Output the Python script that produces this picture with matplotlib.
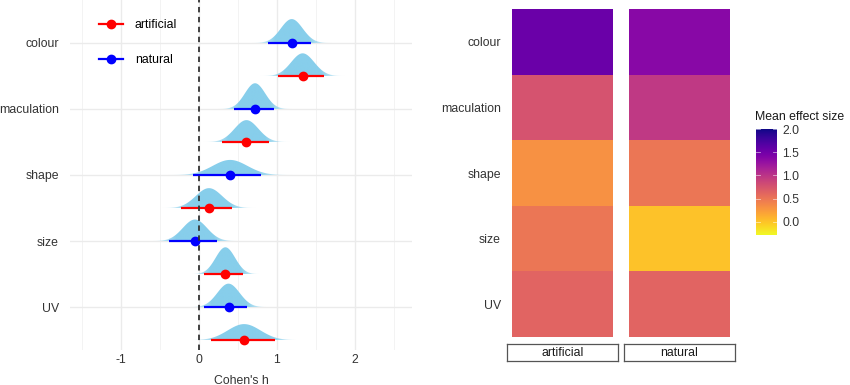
import numpy as np
import matplotlib
matplotlib.use('Agg')
import matplotlib.pyplot as plt
from matplotlib.lines import Line2D
from matplotlib.patches import Polygon

plt.rcParams['font.family'] = ['Liberation Sans', 'DejaVu Sans']
plt.rcParams['font.size'] = 8.8
plt.rcParams['axes.unicode_minus'] = False

# data
categories = ['colour', 'maculation', 'shape', 'size', 'UV']
nat_mean = [1.19, 0.72, 0.40, -0.05, 0.38]
nat_lo = [0.89, 0.45, -0.07, -0.38, 0.06]
nat_hi = [1.44, 0.96, 0.80, 0.23, 0.62]
art_mean = [1.33, 0.61, 0.13, 0.34, 0.58]
art_lo = [1.02, 0.30, -0.23, 0.07, 0.16]
art_hi = [1.60, 0.90, 0.43, 0.56, 0.98]

facets = ['artificial', 'natural']
heat_art = [1.54, 0.77, 0.31, 0.50, 0.63]
heat_nat = [1.36, 0.97, 0.50, 0.02, 0.63]
cbar_ticks = [0.0, 0.5, 1.0, 1.5, 2.0]
cbar_lim = (-0.28, 2.0)

txt_col = '#333333'
sky = np.array([135, 206, 235]) / 255.
dens_scale = 0.127

fig = plt.figure(figsize=(8.5, 3.85), dpi=100)


def halfeye(ax, mean, lo, hi, ybase, color):
    sd = (hi - lo) / 3.92
    xs = np.linspace(mean - 4 * sd, mean + 4 * sd, 200)
    z = (xs - mean) / sd
    dens = np.exp(-0.5 * z ** 2) / (sd * np.sqrt(2 * np.pi)) * dens_scale
    verts = np.vstack([np.column_stack([xs, ybase - dens]),
                       [[xs[-1], ybase], [xs[0], ybase]]])
    poly = Polygon(verts, closed=True, facecolor='none', edgecolor='none')
    ax.add_patch(poly)
    alpha = np.clip(1.7 - 0.45 * np.abs(z), 0, 1)
    img = np.zeros((1, len(xs), 4))
    img[0, :, :3] = sky
    img[0, :, 3] = alpha
    im = ax.imshow(img, extent=(xs[0], xs[-1], ybase, ybase - dens.max()),
                   aspect='auto', interpolation='bilinear', zorder=2)
    im.set_clip_path(poly)
    ax.plot([lo, hi], [ybase, ybase], color=color, lw=1.6, zorder=4,
            solid_capstyle='butt')
    ax.plot(mean, ybase, 'o', color=color, ms=6, zorder=5)


# left panel: posterior halfeyes
ax = fig.add_axes([70 / 850, 1 - 350 / 385, 342 / 850, 350 / 385])
for i in range(len(categories)):
    halfeye(ax, nat_mean[i], nat_lo[i], nat_hi[i], i, '#0000FF')
    halfeye(ax, art_mean[i], art_lo[i], art_hi[i], i + 0.5, '#FF0000')

ax.axvline(0, color='#333333', lw=1.3, ls=(0, (3, 2.5)), zorder=6)
ax.set_xlim(-1.65, 2.73)
ax.set_ylim(4.65, -0.65)
ax.set_xticks([-1, 0, 1, 2])
ax.set_xticks([-1.5, -0.5, 0.5, 1.5, 2.5], minor=True)
ax.set_yticks(range(len(categories)))
ax.set_yticklabels(categories)
ax.grid(which='major', color='#EBEBEB', lw=1.0, zorder=0)
ax.grid(which='minor', axis='x', color='#F3F3F3', lw=0.7, zorder=0)
ax.set_axisbelow(True)
for s in ax.spines.values():
    s.set_visible(False)
ax.tick_params(which='both', length=0, colors=txt_col, labelsize=8.8)
ax.tick_params(axis='y', pad=8)
ax.tick_params(axis='x', pad=3)
ax.set_xlabel("Cohen's h", color=txt_col, labelpad=6)

handles = [Line2D([], [], color='#FF0000', lw=1.6, marker='o', ms=6),
           Line2D([], [], color='#0000FF', lw=1.6, marker='o', ms=6)]
ax.legend(handles, ['artificial', 'natural'], loc='upper left',
          bbox_to_anchor=(0.052, 0.977), frameon=False, handlelength=2.0,
          labelspacing=1.9, handletextpad=0.95, fontsize=8.8)

# right panel: heatmap facets
cmap = plt.get_cmap('plasma_r')
heat_vals = [heat_art, heat_nat]
lefts = [512, 629]
strip_l = [507, 624]
for j, name in enumerate(facets):
    hx = fig.add_axes([lefts[j] / 850, 1 - 337 / 385, 101 / 850, 328 / 385])
    hx.pcolormesh([0, 1], np.arange(len(categories) + 1),
                  np.array(heat_vals[j])[:, None], cmap=cmap,
                  vmin=cbar_lim[0], vmax=cbar_lim[1])
    hx.set_xlim(0, 1)
    hx.set_ylim(len(categories), 0)
    hx.set_xticks([])
    if j == 0:
        hx.set_yticks(np.arange(len(categories)) + 0.5)
        hx.set_yticklabels(categories)
        hx.tick_params(axis='y', length=0, pad=8, labelcolor=txt_col)
    else:
        hx.set_yticks([])
    for s in hx.spines.values():
        s.set_visible(False)

    st = fig.add_axes([strip_l[j] / 850, 1 - 361 / 385, 111 / 850, 17 / 385])
    st.set_xticks([])
    st.set_yticks([])
    for s in st.spines.values():
        s.set_color('#555555')
        s.set_linewidth(0.9)
    st.text(0.5, 0.45, name, ha='center', va='center', color='#1A1A1A',
            transform=st.transAxes)

# colorbar
cb = fig.add_axes([756 / 850, 1 - 235 / 385, 21 / 850, 106 / 385])
grad = np.linspace(cbar_lim[0], cbar_lim[1], 256)[:, None]
cb.imshow(grad, cmap=cmap, vmin=cbar_lim[0], vmax=cbar_lim[1],
          extent=(0, 1, cbar_lim[0], cbar_lim[1]), origin='lower', aspect='auto')
for t in cbar_ticks:
    cb.plot([0, 0.2], [t, t], color='white', lw=0.6, alpha=0.6)
    cb.plot([0.8, 1], [t, t], color='white', lw=0.6, alpha=0.6)
cb.set_xlim(0, 1)
cb.set_ylim(*cbar_lim)
cb.set_xticks([])
cb.yaxis.tick_right()
cb.set_yticks(cbar_ticks)
cb.set_yticklabels(['%.1f' % t for t in cbar_ticks])
cb.tick_params(axis='y', length=0, pad=4, labelcolor=txt_col)
for s in cb.spines.values():
    s.set_visible(False)
fig.text(755 / 850, 1 - 117 / 385, 'Mean effect size', ha='left',
         va='center', color='#1A1A1A')

fig.savefig('out.png', dpi=100)
